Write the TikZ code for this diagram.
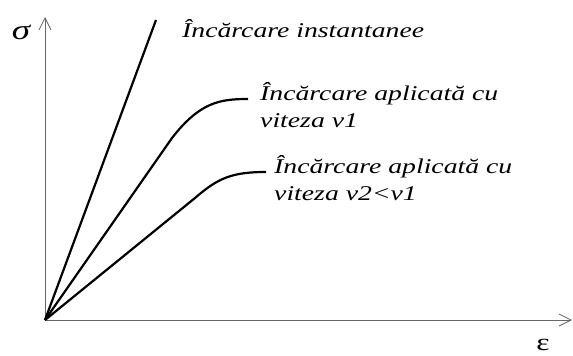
\documentclass[tikz,border=0pt]{standalone}
\usepackage{fontspec}
\setmainfont{Liberation Serif}[FakeStretch=1.32]
\usetikzlibrary{arrows.meta}
\begin{document}
\begin{tikzpicture}[x=1pt,y=-1pt,
  axis/.style={draw=gray!80!black,line width=1pt,-{Straight Barb[length=12pt,width=12pt,line width=0.8pt]}},
  curve/.style={line width=2.2pt,line join=round},
  lbl/.style={font=\itshape\fontsize{21}{26.5}\selectfont,anchor=base west,inner sep=0pt,align=left}]
\useasboundingbox (0,0) rectangle (573,356);
\coordinate (O) at (45,320);
\coordinate (ytop) at (45,17);
\coordinate (xend) at (572,320);
\draw[axis] (O) -- (ytop);
\draw[axis] (O) -- (xend);
\node[font=\itshape\fontsize{28}{30}\selectfont,inner sep=0pt] (sig) at (21,32) {σ};
\node[font=\fontsize{24}{26}\selectfont,inner sep=0pt,text height=11pt,text depth=0pt,anchor=base] (eps) at (543,350) {ε};
\coordinate (e1) at (156,20);
\coordinate (e2) at (248,99);
\coordinate (e3) at (266,172);
\draw[curve] (O) -- (e1);
\draw[curve] (O) -- (172,138) .. controls (200,102) and (220,99) .. (e2);
\draw[curve] (O) -- (195,198) .. controls (218,178) and (232,172) .. (e3);
\node[lbl] (t1) at (182,37) {Încărcare instantanee};
\node[lbl] (t2) at (260,127) {Încărcare aplicată cu\\viteza v1};
\node[lbl] (t3) at (274,200) {Încărcare aplicată cu\\viteza v2<v1};
\end{tikzpicture}
\end{document}
